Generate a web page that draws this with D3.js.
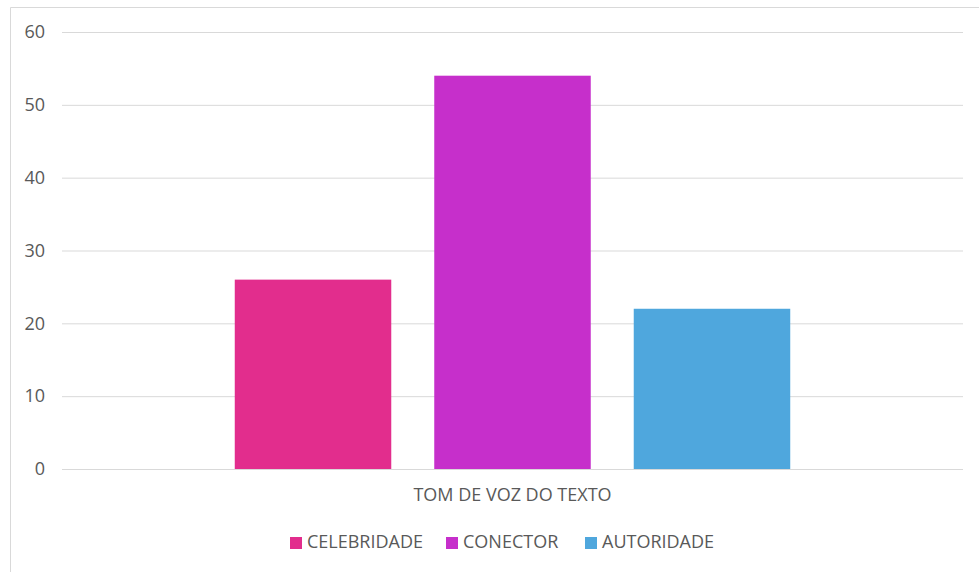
<!DOCTYPE html>
<html>
<head>
<meta charset="utf-8">
<script src="https://cdn.jsdelivr.net/npm/d3@7"></script>
<style>
  html, body { margin: 0; padding: 0; background: #fff; }
  svg { display: block; }
  text { font-family: "Open Sans", "DejaVu Sans", sans-serif; fill: #595959; }
</style>
</head>
<body>
<script>
const categories = ["TOM DE VOZ DO TEXTO"];
const series = ["CELEBRIDADE", "CONECTOR", "AUTORIDADE"];
const values = [26, 54, 22];
const colors = ["#E22D8D", "#C62FCB", "#4FA7DD"];
const yTicks = [0, 10, 20, 30, 40, 50, 60];

(function () {
const W = 979, H = 572;
const FS = 18;
const svg = d3.select("body").append("svg").attr("width", W).attr("height", H);

// chart border
svg.append("path")
  .attr("d", `M10.5,${H} L10.5,7.5 L${W},7.5`)
  .attr("fill", "none").attr("stroke", "#d9d9d9").attr("stroke-width", 1);

const mL = 62, mR = 963, mT = 32, mB = 469;

const y = d3.scaleLinear().domain([0, 60]).range([mB, mT]);
const x0 = d3.scaleBand().domain(categories).range([mL, mR]).paddingInner(0).paddingOuter(0.311);
const x1 = d3.scaleBand().domain(series).range([0, x0.bandwidth()]).paddingInner(0.2155).paddingOuter(0);

// gridlines
const yAxis = d3.axisLeft(y).tickValues(yTicks).tickSize(-(mR - mL)).tickPadding(17).tickFormat(d3.format("d"));
const gy = svg.append("g").attr("transform", `translate(${mL},0)`).call(yAxis);
gy.select(".domain").remove();
gy.selectAll(".tick line").attr("stroke", "#d9d9d9").attr("stroke-width", 1);
gy.selectAll(".tick text").attr("font-size", FS).style("fill", "#595959")
  .style("font-family", '"Open Sans", "DejaVu Sans", sans-serif');

// bars
const g = svg.append("g");
categories.forEach(cat => {
  g.selectAll(null).data(series).enter().append("rect")
    .attr("x", s => x0(cat) + x1(s))
    .attr("width", x1.bandwidth())
    .attr("y", (s, i) => y(values[i]))
    .attr("height", (s, i) => y(0) - y(values[i]))
    .attr("fill", (s, i) => colors[i]);
});

// x category label
svg.selectAll(null).data(categories).enter().append("text")
  .attr("x", d => x0(d) + x0.bandwidth() / 2)
  .attr("y", 501)
  .attr("text-anchor", "middle")
  .attr("font-size", FS)
  .text(d => d);

// legend
const legendX = [290, 446, 585];
const lg = svg.append("g");
series.forEach((s, i) => {
  lg.append("rect").attr("x", legendX[i]).attr("y", 537).attr("width", 12).attr("height", 12).attr("fill", colors[i]);
  lg.append("text").attr("x", legendX[i] + 17).attr("y", 548).attr("font-size", FS).text(s);
});
})();
</script>
</body>
</html>
